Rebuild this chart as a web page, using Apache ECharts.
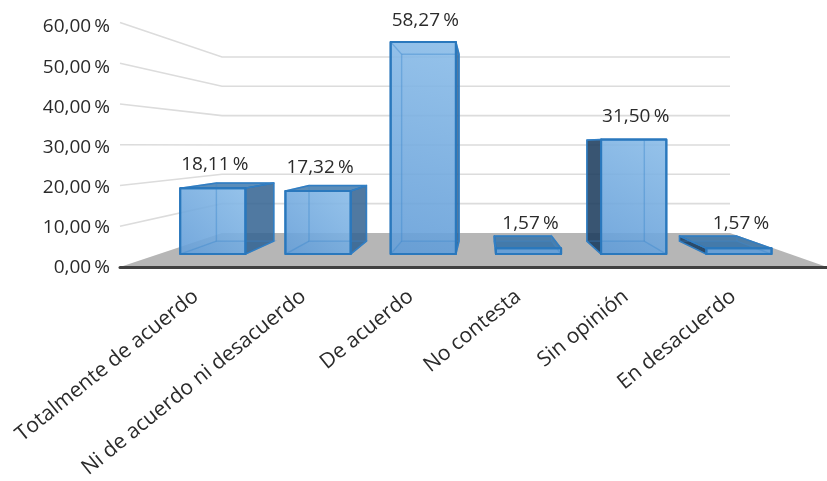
<!DOCTYPE html>
<html>
<head>
<meta charset="utf-8">
<style>html,body{margin:0;padding:0;background:#fff}#c{width:827px;height:481px}</style>
<script src="https://cdn.jsdelivr.net/npm/echarts@6/dist/echarts.min.js"></script>
</head>
<body>
<div id="c"></div>
<script>
const categories = ['Totalmente de acuerdo','Ni de acuerdo ni desacuerdo','De acuerdo','No contesta','Sin opinión','En desacuerdo'];
const values = [18.11,17.32,58.27,1.57,31.50,1.57];
const valueLabels = ['18,11\u2009%','17,32\u2009%','58,27\u2009%','1,57\u2009%','31,50\u2009%','1,57\u2009%'];
const yTicks = [0,10,20,30,40,50,60];
const yTickLabels = ['0,00\u2009%','10,00\u2009%','20,00\u2009%','30,00\u2009%','40,00\u2009%','50,00\u2009%','60,00\u2009%'];

const FONT = '"Open Sans"';
const TXT = '#2b2b2b';
// perspective of the chart box (pixels / ratios of the projection)
const BACK_L = 102, BACK_R = 97, BACK_RISE = 34, BACK_SHRINK = 0.28;
const DEPTH_FRONT = 0.38, DEPTH_BACK = 0.76, DEPTH_LABEL = 0.42, BAR_RATIO = 0.62, BAR_SHIFT = 1.6;

function projector(cs) {
  const x0 = cs.x, w = cs.width, base = cs.y + cs.height;
  return function (X, Y, d) {
    const l = x0 + BACK_L * d, r = x0 + w - BACK_R * d;
    return [l + (X - x0) / w * (r - l), base - BACK_RISE * d - (base - Y) * (1 - BACK_SHRINK * d)];
  };
}

function renderWall(params, api) {
  const cs = params.coordSys, P = projector(cs), v = api.value(0);
  const Y = api.coord([0, v])[1];
  const a = P(cs.x, Y, 0), b = P(cs.x, Y, 1), c = P(cs.x + cs.width, Y, 1), e = P(cs.x + cs.width, Y, 0);
  const kids = [];
  if (v === 0) {
    kids.push({type:'polygon', shape:{points:[a,b,c,e]}, style:{fill:'#b6b6b6'}});
  } else {
    kids.push({type:'polyline', shape:{points:[a,b,c]}, style:{fill:'none', stroke:'#dcdcdc', lineWidth:1.6}});
  }
  return {type:'group', children:kids};
}

function renderBar(params, api) {
  const cs = params.coordSys, P = projector(cs);
  const i = api.value(0), v = api.value(1);
  const band = api.size([1,0])[0];
  const cx = api.coord([i, v])[0] + BAR_SHIFT, top = api.coord([i, v])[1], bot = api.coord([i, 0])[1];
  const L = cx - band * BAR_RATIO / 2, R = cx + band * BAR_RATIO / 2;
  const fbl = P(L,bot,DEPTH_FRONT), fbr = P(R,bot,DEPTH_FRONT), ftl = P(L,top,DEPTH_FRONT), ftr = P(R,top,DEPTH_FRONT);
  const bbl = P(L,bot,DEPTH_BACK), bbr = P(R,bot,DEPTH_BACK), btl = P(L,top,DEPTH_BACK), btr = P(R,top,DEPTH_BACK);
  const edge = '#2a78bd', inner = 'rgba(60,135,205,.42)';
  const poly = (pts, fill, stroke, lw) => ({type:'polygon', shape:{points:pts}, style:{fill:fill, stroke:stroke||'none', lineWidth:lw||0, lineJoin:'round'}});
  const line = (pts) => ({type:'polyline', shape:{points:pts}, style:{fill:'none', stroke:inner, lineWidth:1.4}});
  const low = 'rgba(100,158,216,.90)';
  const grad = fbl[1] - ftl[1] < 20 ? low : new echarts.graphic.LinearGradient(1,0,0,1,[
    {offset:0,color:'rgba(138,188,232,.90)'},
    {offset:1,color:low}]);
  const kids = [poly([fbl,fbr,bbr,bbl],'rgba(50,110,170,.30)')];
  // only the faces turned towards the viewer get a solid fill
  if (bbl[0] < fbl[0]) kids.push(poly([fbl,bbl,btl,ftl],'rgba(30,62,95,.88)',edge,1.5));
  if (bbr[0] > fbr[0]) kids.push(poly([fbr,bbr,btr,ftr],'rgba(56,103,148,.88)',edge,1.5));
  if (btl[1] < ftl[1]) kids.push(poly([ftl,ftr,btr,btl],'rgba(50,112,168,.80)',edge,1.5));
  const anchor = P(cx, top, DEPTH_LABEL);
  kids.push(
    poly([fbl,fbr,ftr,ftl],grad,edge,2),
    line([ftl,btl,bbl,bbr,fbr]),
    line([fbl,bbl]),
    line([ftr,btr,bbr]),
    line([btl,btr]),
    poly([fbl,fbr,ftr,ftl],'none',edge,2),
    {type:'text', x:(ftl[0]+ftr[0])/2+2, y:anchor[1]-23,
     style:{text:valueLabels[i], font:'19px '+FONT, fill:TXT, align:'center', verticalAlign:'middle'}}
  );
  return {type:'group', children:kids};
}

const chart = echarts.init(document.getElementById('c'), null, {renderer:'canvas'});
chart.setOption({
  animation:false,
  backgroundColor:'#fff',
  grid:[
    {left:120, top:22.5, width:707, height:244.5},
    {left:142, top:27, width:645, height:242}
  ],
  xAxis:[
    {type:'category', gridIndex:0, data:categories, axisTick:{show:false}, axisLabel:{show:false},
     axisLine:{lineStyle:{color:'#404040', width:3}}, z:10},
    {type:'category', gridIndex:1, data:categories, axisTick:{show:false}, axisLine:{show:false},
     axisLabel:{interval:0, rotate:39, margin:26, fontFamily:FONT, fontSize:21, color:TXT, hideOverlap:false}}
  ],
  yAxis:[
    {type:'value', gridIndex:0, min:0, max:60, interval:10, show:false},
    {type:'value', gridIndex:1, min:0, max:60, interval:10, splitLine:{show:false}, axisLine:{show:false}, axisTick:{show:false},
     axisLabel:{margin:32, fontFamily:FONT, fontSize:19, color:TXT,
       formatter:function(v){return yTickLabels[yTicks.indexOf(v)];}}}
  ],
  series:[
    {type:'custom', xAxisIndex:0, yAxisIndex:0, renderItem:renderWall, data:yTicks.map(v=>[v]), encode:{y:0}, silent:true, z:1},
    {type:'custom', xAxisIndex:0, yAxisIndex:0, renderItem:renderBar, data:values.map((v,i)=>[i,v]), encode:{x:0,y:1}, silent:true, z:3}
  ]
});
</script>
</body>
</html>
